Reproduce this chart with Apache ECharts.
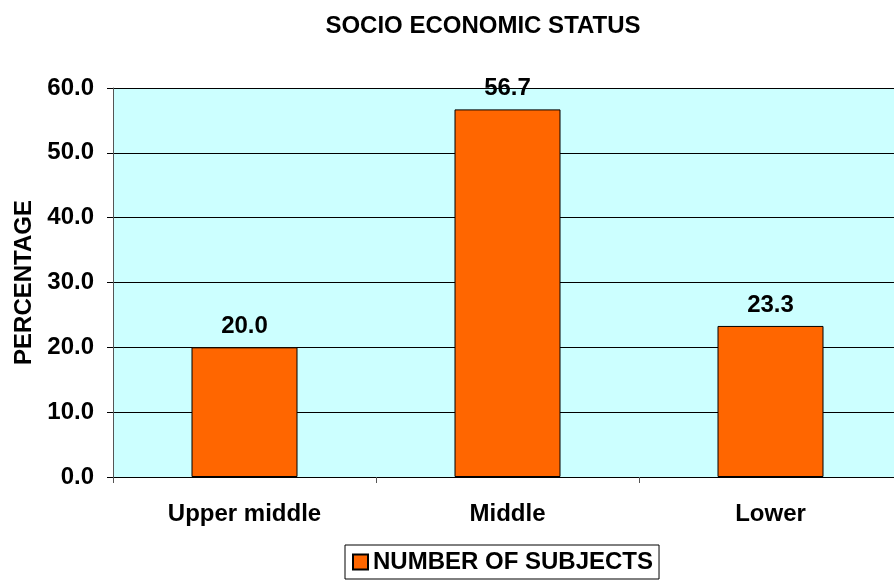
<!DOCTYPE html>
<html><head><meta charset="utf-8">
<script src="https://cdn.jsdelivr.net/npm/echarts@6/dist/echarts.min.js"></script>
<style>html,body{margin:0;padding:0;background:#fff;overflow:hidden}#c{width:894px;height:581px}</style>
</head><body><div id="c"></div>
<script>
const categories = ['Upper middle', 'Middle', 'Lower'];
const values = [20.0, 56.7, 23.3];
const seriesName = 'NUMBER OF SUBJECTS';
const yTicks = [0, 10, 20, 30, 40, 50, 60];

const F = 'Liberation Sans, Arial, sans-serif';
const chart = echarts.init(document.getElementById('c'), null, {renderer: 'canvas'});
chart.setOption({
  animation: false,
  title: {text: 'SOCIO ECONOMIC STATUS', left: 478, top: 9, textAlign: 'center',
    textStyle: {fontFamily: F, fontWeight: 'bold', fontSize: 24, color: '#000'}},
  grid: {left: 113, width: 789, top: 88, height: 389, show: true, backgroundColor: '#CCFFFF', borderWidth: 0,
    outerBoundsMode: 'none', containLabel: false},
  legend: {data: [seriesName], left: 345, top: 545, orient: 'horizontal', padding: [5, 6, 5, 7],
    borderColor: '#000', borderWidth: 1, itemWidth: 15, itemHeight: 15, itemGap: 5,
    textStyle: {fontFamily: F, fontWeight: 'bold', fontSize: 24, color: '#000', padding: [0, 0, 0, 0]},
    icon: 'rect'},
  xAxis: {type: 'category', data: categories,
    axisLine: {lineStyle: {color: '#000'}},
    axisTick: {show: true, length: 6, lineStyle: {color: '#555'}},
    axisLabel: {fontFamily: F, fontWeight: 'bold', fontSize: 24, color: '#000', margin: 25}},
  yAxis: {type: 'value', min: 0, max: 60, interval: 10,
    name: 'PERCENTAGE', nameLocation: 'middle', nameGap: 77,
    nameTextStyle: {fontFamily: F, fontWeight: 'bold', fontSize: 24, color: '#000'},
    axisLine: {show: true, lineStyle: {color: '#555'}},
    axisTick: {show: true, length: 6, lineStyle: {color: '#000'}},
    splitLine: {show: true, lineStyle: {color: '#000', width: 1}},
    axisLabel: {fontFamily: F, fontWeight: 'bold', fontSize: 24, color: '#000', margin: 19,
      formatter: v => yTicks.includes(v) ? v.toFixed(1) : ''}},
  series: [{name: seriesName, type: 'bar', data: values, barWidth: 106,
    itemStyle: {color: '#FF6600', borderColor: '#000', borderWidth: 1},
    label: {show: true, position: 'top', distance: 9, formatter: p => p.value.toFixed(1),
      fontFamily: F, fontWeight: 'bold', fontSize: 24, color: '#000'}}]
});
</script></body></html>
